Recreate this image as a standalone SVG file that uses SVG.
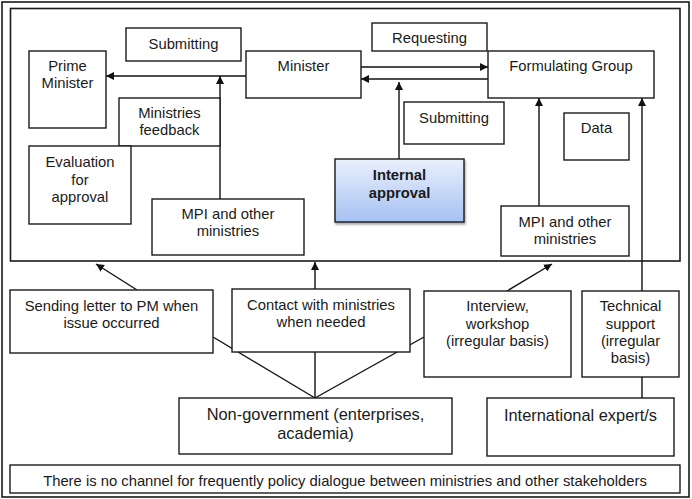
<svg xmlns="http://www.w3.org/2000/svg" width="692" height="499" viewBox="0 0 692 499">
<defs>
<marker id="ah" viewBox="0 0 10 10" refX="10" refY="5" markerWidth="8" markerHeight="8" markerUnits="userSpaceOnUse" orient="auto">
<path d="M0,0 L10,5 L0,10 z" fill="#111"/>
</marker>
<linearGradient id="blue" x1="0" y1="0" x2="0" y2="1">
<stop offset="0" stop-color="#eaf0fd"/>
<stop offset="1" stop-color="#a6c1f2"/>
</linearGradient>
<filter id="sh" x="-10%" y="-10%" width="130%" height="140%">
<feDropShadow dx="1" dy="2" stdDeviation="1.2" flood-color="#000" flood-opacity="0.35"/>
</filter>
</defs>
<style>
.b{fill:#fff;stroke:#1a1a1a;stroke-width:1.4}
.f{fill:none;stroke:#1a1a1a;stroke-width:1.6}
.t{font-family:"Liberation Sans",Arial,sans-serif;font-size:14.8px;fill:#1a1a1a;text-anchor:middle}
.L{font-size:16.4px}
.bd{font-weight:bold}
.c{stroke:#111;stroke-width:1.4;fill:none}
.a{marker-end:url(#ah)}
</style>
<rect width="692" height="499" fill="#fff"/>
<rect class="f" x="2" y="2" width="687" height="495"/>
<rect class="f" x="10.5" y="8.5" width="669.5" height="252.5"/>

<g id="connectors">
<line class="c a" x1="246" y1="76" x2="106" y2="76"/>
<line class="c a" x1="220" y1="199" x2="220" y2="76"/>
<line class="c a" x1="361" y1="67" x2="488" y2="67"/>
<line class="c a" x1="488" y1="79" x2="361" y2="79"/>
<line class="c a" x1="399" y1="159" x2="399" y2="82"/>
<line class="c a" x1="539" y1="206" x2="539" y2="98"/>
<line class="c a" x1="642" y1="291" x2="642" y2="98"/>
<line class="c" x1="642" y1="377" x2="642" y2="398"/>
<line class="c a" x1="137" y1="290" x2="96" y2="264"/>
<line class="c a" x1="315" y1="289" x2="315" y2="262"/>
<line class="c a" x1="507" y1="291" x2="552" y2="264"/>
<line class="c" x1="315" y1="398" x2="213" y2="337"/>
<line class="c" x1="315" y1="398" x2="315" y2="352"/>
<line class="c" x1="315" y1="398" x2="424" y2="337"/>
</g>

<g id="submitting-top"><rect class="b" x="126" y="28" width="115" height="33"/><text class="t" x="183.5" y="49">Submitting</text></g>
<g id="prime-minister"><rect class="b" x="29" y="51" width="77" height="77"/><text class="t" x="67.5" y="71">Prime</text><text class="t" x="67.5" y="87.5">Minister</text></g>
<g id="minister"><rect class="b" x="246" y="51" width="115" height="47"/><text class="t" x="303.5" y="71">Minister</text></g>
<g id="ministries-feedback"><rect class="b" x="119" y="98" width="101" height="48"/><text class="t" x="169.5" y="118">Ministries</text><text class="t" x="169.5" y="134.5">feedback</text></g>
<g id="evaluation"><rect class="b" x="29" y="146" width="102" height="78"/><text class="t" x="80" y="167">Evaluation</text><text class="t" x="80" y="184.5">for</text><text class="t" x="80" y="202">approval</text></g>
<g id="mpi-left"><rect class="b" x="152" y="199" width="152" height="56"/><text class="t" x="228" y="219">MPI and other</text><text class="t" x="228" y="236">ministries</text></g>
<g id="internal-approval"><rect x="335" y="159" width="129" height="63" fill="url(#blue)" stroke="#1a1a1a" stroke-width="1.4" filter="url(#sh)"/><text class="t bd" x="399.5" y="180">Internal</text><text class="t bd" x="399.5" y="198">approval</text></g>
<g id="requesting"><rect class="b" x="372" y="23" width="115" height="28"/><text class="t" x="429.5" y="43">Requesting</text></g>
<g id="formulating-group"><rect class="b" x="488" y="51" width="166" height="47"/><text class="t" x="571" y="71">Formulating Group</text></g>
<g id="submitting-right"><rect class="b" x="404" y="102" width="100" height="42"/><text class="t" x="454" y="123">Submitting</text></g>
<g id="data"><rect class="b" x="564" y="113" width="65" height="47"/><text class="t" x="596.5" y="133">Data</text></g>
<g id="mpi-right"><rect class="b" x="501" y="206" width="128" height="50"/><text class="t" x="565" y="227">MPI and other</text><text class="t" x="565" y="244">ministries</text></g>

<g id="sending-letter"><rect class="b" x="10" y="290" width="203" height="63"/><text class="t" x="111.5" y="311">Sending letter to PM when</text><text class="t" x="111.5" y="328">issue occurred</text></g>
<g id="contact"><rect class="b" x="232" y="289" width="178" height="63"/><text class="t" x="321" y="310">Contact with ministries</text><text class="t" x="321" y="327">when needed</text></g>
<g id="interview"><rect class="b" x="424" y="291" width="147" height="86"/><text class="t" x="497.5" y="311">Interview,</text><text class="t" x="497.5" y="328.5">workshop</text><text class="t" x="497.5" y="346">(irregular basis)</text></g>
<g id="technical-support"><rect class="b" x="582" y="291" width="97" height="86"/><text class="t" x="630.5" y="311">Technical</text><text class="t" x="630.5" y="328.5">support</text><text class="t" x="630.5" y="346">(irregular</text><text class="t" x="630.5" y="363">basis)</text></g>
<g id="non-government"><rect class="b" x="179" y="398" width="273" height="56"/><text class="t L" x="315.5" y="420">Non-government (enterprises,</text><text class="t L" x="315.5" y="439">academia)</text></g>
<g id="international-expert"><rect class="b" x="487" y="398" width="187" height="58"/><text class="t L" x="580.5" y="421">International expert/s</text></g>
<g id="no-channel"><rect class="b" x="10" y="465" width="670" height="28"/><text class="t" x="345" y="486">There is no channel for frequently policy dialogue between ministries and other stakeholders</text></g>
</svg>
